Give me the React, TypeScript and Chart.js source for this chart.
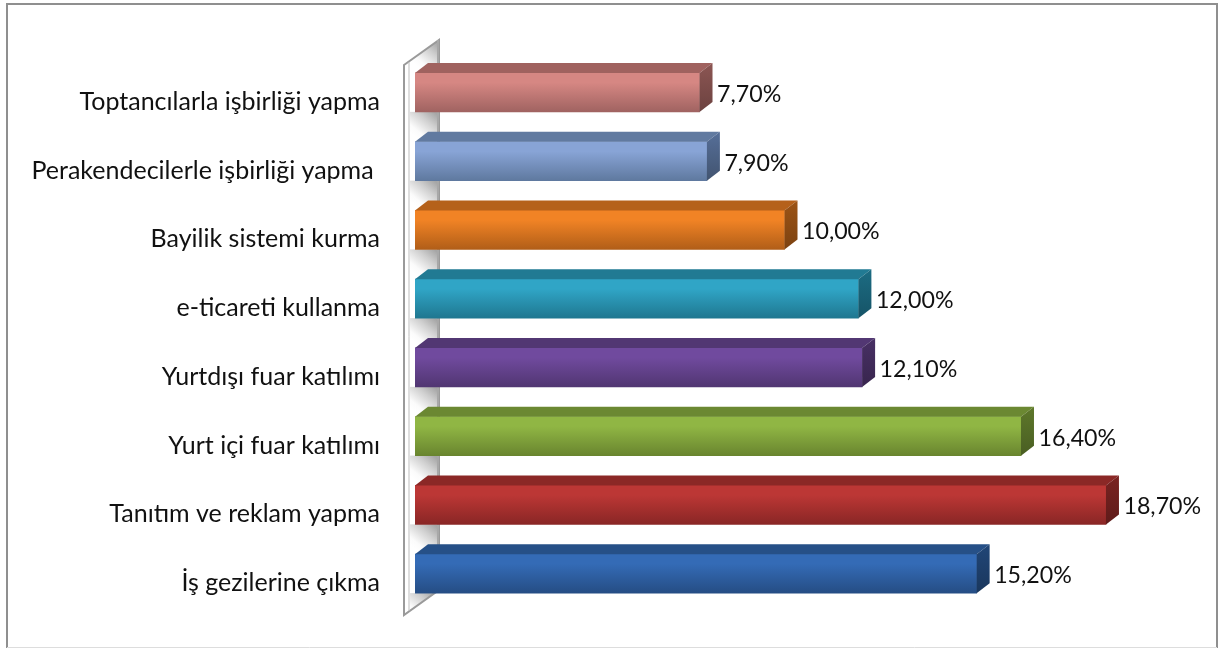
import React, { useEffect, useRef } from "react";
import { Chart, registerables } from "chart.js";

Chart.register(...registerables);

const categories = [
  "Toptancılarla işbirliği yapma",
  "Perakendecilerle işbirliği yapma ",
  "Bayilik sistemi kurma",
  "e-ticareti kullanma",
  "Yurtdışı fuar katılımı",
  "Yurt içi fuar katılımı",
  "Tanıtım ve reklam yapma",
  "İş gezilerine çıkma",
];
const values = [7.7, 7.9, 10.0, 12.0, 12.1, 16.4, 18.7, 15.2];

const frontTop = ["#D68783", "#88A4D6", "#F18325", "#30A5C6", "#704A9E", "#90B644", "#BC3735", "#346BB6"];
const frontBottom = ["#A06361", "#5F799F", "#B15E18", "#1F7790", "#513672", "#69852F", "#892625", "#254D84"];
const topFace = ["#A0625F", "#617AA0", "#B5611A", "#217A93", "#523773", "#6B8832", "#8B2826", "#265087"];
const sideTop = ["#8C5653", "#566F99", "#9C5416", "#1C6C83", "#483064", "#5E782B", "#7A2321", "#214677"];
const sideBottom = ["#6C4240", "#425470", "#7C4211", "#165467", "#38254E", "#495E22", "#5E1B1A", "#1A375D"];

const BAR_THICKNESS = 39;
const DEPTH_X = 13;
const DEPTH_Y = 10;
const FONT = "Lato, 'Open Sans', sans-serif";

const frame = {
  id: "frame",
  beforeDraw(chart: any) {
    const { ctx, width } = chart;
    ctx.save();
    ctx.fillStyle = "#ffffff";
    ctx.fillRect(0, 0, width, chart.height);
    ctx.strokeStyle = "#8f8f8f";
    ctx.lineWidth = 2;
    ctx.beginPath();
    ctx.moveTo(7, 649);
    ctx.lineTo(7, 4);
    ctx.lineTo(1217, 4);
    ctx.lineTo(1217, 649);
    ctx.stroke();
    ctx.strokeStyle = "#dddddd";
    ctx.lineWidth = 1;
    ctx.beginPath();
    ctx.moveTo(7, 647.5);
    ctx.lineTo(1217, 647.5);
    ctx.stroke();
    ctx.restore();
  },
};

const wall = {
  id: "wall",
  beforeDatasetsDraw(chart: any) {
    const { ctx, chartArea, scales } = chart;
    const x0 = chartArea.left;
    const top = chartArea.top;
    const bottom = chartArea.bottom;
    const lx = x0 - 11;
    const rx = x0 + 24;
    const ly1 = top + 7;
    const ly2 = bottom + 7;
    const ry1 = top - 18;
    const ry2 = bottom - 18;
    const outline = () => {
      ctx.beginPath();
      ctx.moveTo(lx, ly1);
      ctx.lineTo(rx, ry1);
      ctx.lineTo(rx, ry2);
      ctx.lineTo(lx, ly2);
      ctx.closePath();
    };
    ctx.save();
    outline();
    ctx.fillStyle = "#ffffff";
    ctx.fill();
    ctx.save();
    outline();
    ctx.clip();
    for (let i = 0; i <= categories.length; i++) {
      const gapTop =
        i === 0 ? ry1 : scales.y.getPixelForValue(i - 1) + BAR_THICKNESS / 2;
      const gapBottom =
        i === categories.length ? ly2 : scales.y.getPixelForValue(i) - BAR_THICKNESS / 2;
      const g = ctx.createLinearGradient(x0 + 19, gapTop, x0 - 1, gapTop + 24);
      g.addColorStop(0, "#a6a6a6");
      g.addColorStop(0.35, "#cfcfcf");
      g.addColorStop(0.8, "#fbfbfb");
      g.addColorStop(1, "#ffffff");
      ctx.fillStyle = g;
      ctx.fillRect(lx + 6, gapTop, rx - lx - 6, gapBottom - gapTop);
    }
    ctx.restore();
    outline();
    ctx.strokeStyle = "#9a9a9a";
    ctx.lineWidth = 2;
    ctx.lineJoin = "miter";
    ctx.stroke();
    ctx.strokeStyle = "#bdbdbd";
    ctx.lineWidth = 1;
    ctx.beginPath();
    ctx.moveTo(lx + 5, ly1 - 3);
    ctx.lineTo(lx + 5, ly2 - 4);
    ctx.stroke();
    ctx.strokeStyle = "#a8a8a8";
    ctx.lineWidth = 2;
    ctx.beginPath();
    ctx.moveTo(rx - 1, ry1);
    ctx.lineTo(rx - 1, ry2);
    ctx.stroke();
    ctx.restore();
  },
};

const bars3d = {
  id: "bars3d",
  afterDatasetsDraw(chart: any) {
    const { ctx } = chart;
    const meta = chart.getDatasetMeta(0);
    ctx.save();
    meta.data.forEach((bar: any, i: number) => {
      const right = bar.x;
      const left = bar.base;
      const t = bar.y - bar.height / 2;
      const b = bar.y + bar.height / 2;
      ctx.fillStyle = topFace[i];
      ctx.beginPath();
      ctx.moveTo(left, t);
      ctx.lineTo(left + DEPTH_X, t - DEPTH_Y);
      ctx.lineTo(right + DEPTH_X, t - DEPTH_Y);
      ctx.lineTo(right, t);
      ctx.closePath();
      ctx.fill();
      const g = ctx.createLinearGradient(0, t - DEPTH_Y, 0, b);
      g.addColorStop(0, sideTop[i]);
      g.addColorStop(1, sideBottom[i]);
      ctx.fillStyle = g;
      ctx.beginPath();
      ctx.moveTo(right, t);
      ctx.lineTo(right + DEPTH_X, t - DEPTH_Y);
      ctx.lineTo(right + DEPTH_X, b - DEPTH_Y);
      ctx.lineTo(right, b);
      ctx.closePath();
      ctx.fill();

      ctx.fillStyle = "#111111";
      ctx.font = `23.2px ${FONT}`;
      ctx.textAlign = "left";
      ctx.textBaseline = "middle";
      const text = values[i].toFixed(2).replace(".", ",") + "%";
      ctx.fillText(text, right + 17.5, bar.y + 2);
    });
    ctx.restore();
  },
};

export default function App() {
  const ref = useRef<HTMLCanvasElement>(null);
  useEffect(() => {
    if (!ref.current) return;
    const chart = new Chart(ref.current, {
      type: "bar",
      data: {
        labels: categories,
        datasets: [
          {
            data: values,
            barThickness: BAR_THICKNESS,
            borderWidth: 0,
            backgroundColor: (c: any) => {
              const ch = c.chart;
              if (!ch.chartArea || c.dataIndex === undefined) return frontTop[0];
              const i = c.dataIndex;
              const y = ch.scales.y.getPixelForValue(i);
              const g = ch.ctx.createLinearGradient(0, y - BAR_THICKNESS / 2, 0, y + BAR_THICKNESS / 2);
              g.addColorStop(0, frontTop[i]);
              g.addColorStop(0.25, frontTop[i]);
              g.addColorStop(1, frontBottom[i]);
              return g;
            },
          },
        ],
      },
      plugins: [frame, wall, bars3d],
      options: {
        indexAxis: "y",
        responsive: false,
        animation: false,
        layout: { padding: { top: 58, bottom: 40, right: 67, left: 0 } },
        plugins: { legend: { display: false }, tooltip: { enabled: false }, title: { display: false } },
        scales: {
          x: { display: false, min: 0, max: 20 },
          y: {
            type: "category",
            grid: { display: false, drawTicks: false },
            border: { display: false },
            afterFit: (s: any) => {
              s.width = 415;
              s.paddingTop = 0;
              s.paddingBottom = 0;
            },
            ticks: {
              autoSkip: false,
              padding: 35,
              labelOffset: 9.5,
              color: "#111111",
              font: { family: FONT, size: 25 },
            },
          },
        },
      },
    } as any);
    return () => chart.destroy();
  }, []);
  return (
    <canvas
      ref={ref}
      width={1221}
      height={648}
      style={{ position: "absolute", left: 0, top: 0, display: "block", width: 1221, height: 648 }}
    />
  );
}
